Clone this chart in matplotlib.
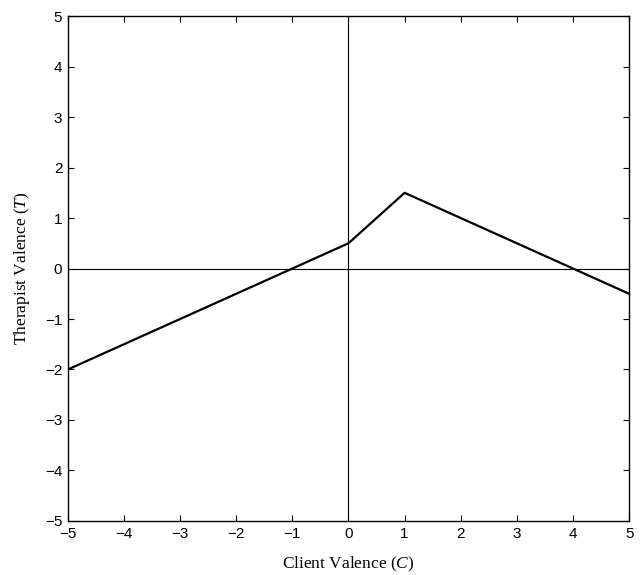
import matplotlib
matplotlib.use('Agg')
import matplotlib.pyplot as plt

# piecewise linear response of therapist valence to client valence
client_valence = [-5, 0, 1, 5]
therapist_valence = [-2, 0.5, 1.5, -0.5]
ticks = [-5, -4, -3, -2, -1, 0, 1, 2, 3, 4, 5]

plt.rcParams['mathtext.fontset'] = 'custom'
plt.rcParams['mathtext.it'] = 'Liberation Serif:italic'
plt.rcParams['mathtext.rm'] = 'Liberation Serif'

fig = plt.figure(figsize=(6.4, 5.75), dpi=100)
ax = fig.add_axes([0.106, 0.094, 0.877, 0.878])

ax.axhline(0, color='k', linewidth=0.8)
ax.axvline(0, color='k', linewidth=0.8)
ax.plot(client_valence, therapist_valence, color='k', linewidth=1.6)

ax.set_xlim(-5, 5)
ax.set_ylim(-5, 5)
ax.set_xticks(ticks)
ax.set_yticks(ticks)
ax.set_xticklabels(['\u2212' + str(-t) if t < 0 else str(t) for t in ticks])
ax.set_yticklabels(['\u2212' + str(-t) if t < 0 else str(t) for t in ticks])
ax.tick_params(direction='in', top=True, right=True, length=4, width=0.8,
               labelsize=11, pad=4)
for lbl in ax.get_xticklabels() + ax.get_yticklabels():
    lbl.set_family('Liberation Sans')
for s in ax.spines.values():
    s.set_linewidth(1.0)

ax.set_xlabel('Client Valence ($\\mathit{C}$)', family='Liberation Serif', fontsize=12.5, labelpad=10.5)
ax.set_ylabel('Therapist Valence ($\\mathit{T}$)', family='Liberation Serif', fontsize=12.5, labelpad=9)

fig.savefig('out.png', dpi=100)
